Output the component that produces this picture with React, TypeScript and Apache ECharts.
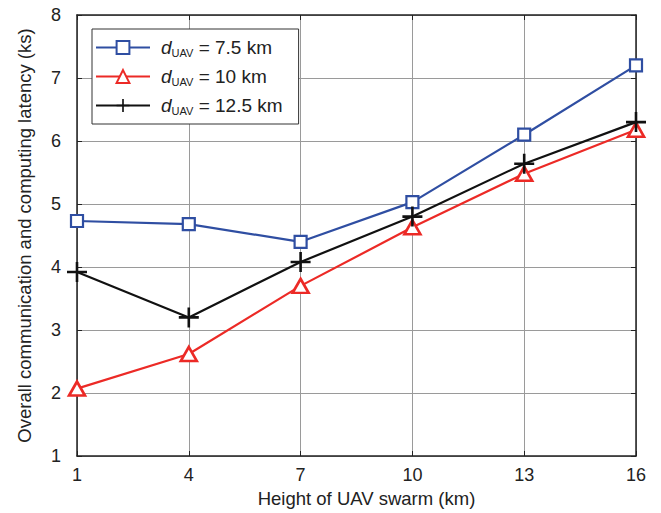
import React, { useEffect, useRef } from "react";
import * as echarts from "echarts";

const heights = ["1", "4", "7", "10", "13", "16"];
const latency75 = [4.73, 4.68, 4.4, 5.03, 6.1, 7.2];
const latency10 = [2.07, 2.62, 3.7, 4.63, 5.48, 6.18];
const latency125 = [3.92, 3.2, 4.08, 4.8, 5.64, 6.3];
const seriesNames = ["7.5 km", "10 km", "12.5 km"];

const FONT = "'Liberation Sans', Arial, sans-serif";
const PLUS = "path://M8.7,0h2.6v20h-2.6zM0,8.7h20v2.6h-20z";

export default function App() {
  const ref = useRef<HTMLDivElement>(null);
  useEffect(() => {
    if (!ref.current) return;
    const chart = echarts.init(ref.current, undefined, { renderer: "svg" });
    const axisLine = { show: true, lineStyle: { color: "#222", width: 1.5 } };
    const split = { show: true, lineStyle: { color: "#9a9a9a", width: 1 } };
    const tick = { show: true, inside: true, length: 5, lineStyle: { color: "#222" } };
    chart.setOption({
      animation: false,
      backgroundColor: "#fff",
      grid: { left: 77, right: 25, top: 15, bottom: 57 },
      legend: {
        left: 92,
        top: 29,
        orient: "vertical",
        backgroundColor: "#fff",
        borderColor: "#333",
        borderWidth: 1,
        borderRadius: 0,
        padding: [8, 16, 8, 3],
        itemWidth: 54,
        itemHeight: 16,
        itemGap: 8,
        data: seriesNames,
        formatter: (name: string) => `{d|d}{s|UAV}{n| = ${name}}`,
        textStyle: {
          fontFamily: FONT,
          color: "#222",
          rich: {
            d: { fontFamily: FONT, fontStyle: "italic", fontSize: 19, color: "#222", lineHeight: 20, padding: [0, 0, 0, 6] },
            s: { fontFamily: FONT, fontSize: 11, color: "#222", padding: [10, 0, 0, 0], lineHeight: 20 },
            n: { fontFamily: FONT, fontSize: 19, color: "#222", lineHeight: 20 },
          },
        },
      },
      xAxis: [
        {
          type: "category",
          data: heights,
          boundaryGap: false,
          name: "Height of UAV swarm (km)",
          nameLocation: "middle",
          nameGap: 29,
          nameTextStyle: { fontFamily: FONT, fontSize: 18.5, color: "#222", padding: [0, 0, 0, 20] },
          axisLine,
          axisTick: tick,
          axisLabel: { fontFamily: FONT, fontSize: 18, color: "#222", margin: 10 },
          splitLine: split,
        },
        {
          type: "category",
          data: heights,
          boundaryGap: false,
          position: "top",
          axisLine,
          axisTick: tick,
          axisLabel: { show: false },
          splitLine: { show: false },
        },
      ],
      yAxis: [
        {
          type: "value",
          min: 1,
          max: 8,
          interval: 1,
          name: "Overall communication and computing latency (ks)",
          nameLocation: "middle",
          nameGap: 43,
          nameTextStyle: { fontFamily: FONT, fontSize: 18.5, color: "#222" },
          axisLine,
          axisTick: tick,
          axisLabel: { fontFamily: FONT, fontSize: 18, color: "#222", margin: 16 },
          splitLine: split,
        },
        {
          type: "value",
          min: 1,
          max: 8,
          interval: 1,
          position: "right",
          axisLine,
          axisTick: tick,
          axisLabel: { show: false },
          splitLine: { show: false },
        },
      ],
      series: [
        {
          name: seriesNames[0],
          type: "line",
          data: latency75,
          symbol: "rect",
          symbolSize: 12,
          lineStyle: { color: "#2F4EA2", width: 2.2 },
          itemStyle: { color: "#fff", borderColor: "#2F4EA2", borderWidth: 2.2 },
          z: 3,
        },
        {
          name: seriesNames[1],
          type: "line",
          data: latency10,
          symbol: "triangle",
          symbolSize: [16, 14],
          lineStyle: { color: "#EC2A26", width: 2.2 },
          itemStyle: { color: "#fff", borderColor: "#EC2A26", borderWidth: 2.6 },
          z: 3,
        },
        {
          name: seriesNames[2],
          type: "line",
          data: latency125,
          symbol: PLUS,
          symbolSize: 20,
          lineStyle: { color: "#111", width: 2.2 },
          itemStyle: { color: "#111" },
          z: 4,
        },
      ],
    });
    return () => chart.dispose();
  }, []);
  return <div ref={ref} style={{ width: 661, height: 513, marginLeft: -8, marginTop: -8 }} />;
}
